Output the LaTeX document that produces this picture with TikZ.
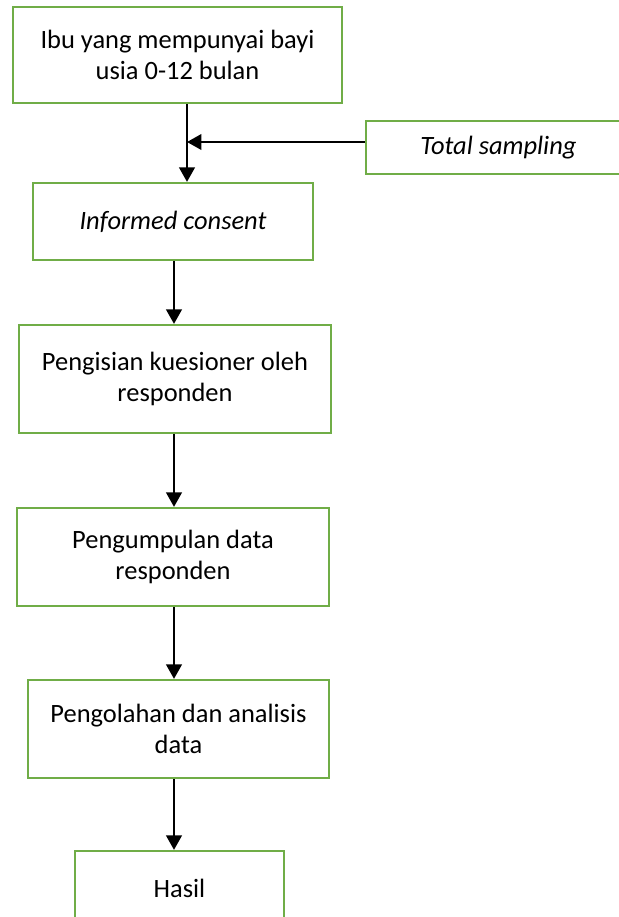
\documentclass[tikz,border=0pt]{standalone}
\usepackage{fontspec}
\setmainfont{Carlito}
\usetikzlibrary{arrows.meta}
\definecolor{hijau}{HTML}{70AD47}
\tikzset{
  kotak/.style={draw=hijau, line width=1pt, align=center, inner sep=0pt},
  panah/.style={-{Triangle[length=6.5pt,width=7pt]}, line width=1pt}
}

\begin{document}
\begin{tikzpicture}[x=0.45pt,y=-0.45pt,font=\fontsize{11.9}{13.6}\selectfont]
\clip (0,0) rectangle (619,917);
\node[kotak, minimum width=148.05pt, minimum height=43.2pt] (ibu) at (177.5,55) {Ibu yang mempunyai bayi\\usia 0-12 bulan};
\node[kotak, minimum width=119.25pt, minimum height=23.85pt] (sampling) at (498.5,147.5) {\textit{Total sampling}};
\node[kotak, minimum width=126pt, minimum height=34.65pt] (consent) at (173,221.5) {\textit{Informed consent}};
\node[kotak, minimum width=140.4pt, minimum height=48.6pt] (kuesioner) at (175,379) {Pengisian kuesioner oleh\\responden};
\node[kotak, minimum width=140.4pt, minimum height=44.1pt] (kumpul) at (173,557) {Pengumpulan data\\responden};
\node[kotak, minimum width=135.45pt, minimum height=44.1pt] (olah) at (178.5,729) {Pengolahan dan analisis\\data};
\node[kotak, minimum width=94.05pt, minimum height=33.75pt] (hasil) at (179.5,888.5) {Hasil};
% titik temu dan jalur panah
\coordinate (temu) at (187,142);
\coordinate (jalur) at (174,0);
\draw[panah] (ibu.south -| temu) -- (consent.north -| temu);
\draw[panah] (sampling.west |- temu) -- (temu);
\draw[panah] (consent.south -| jalur) -- (kuesioner.north -| jalur);
\draw[panah] (kuesioner.south -| jalur) -- (kumpul.north -| jalur);
\draw[panah] (kumpul.south -| jalur) -- (olah.north -| jalur);
\draw[panah] (olah.south -| jalur) -- (hasil.north -| jalur);
\end{tikzpicture}
\end{document}
